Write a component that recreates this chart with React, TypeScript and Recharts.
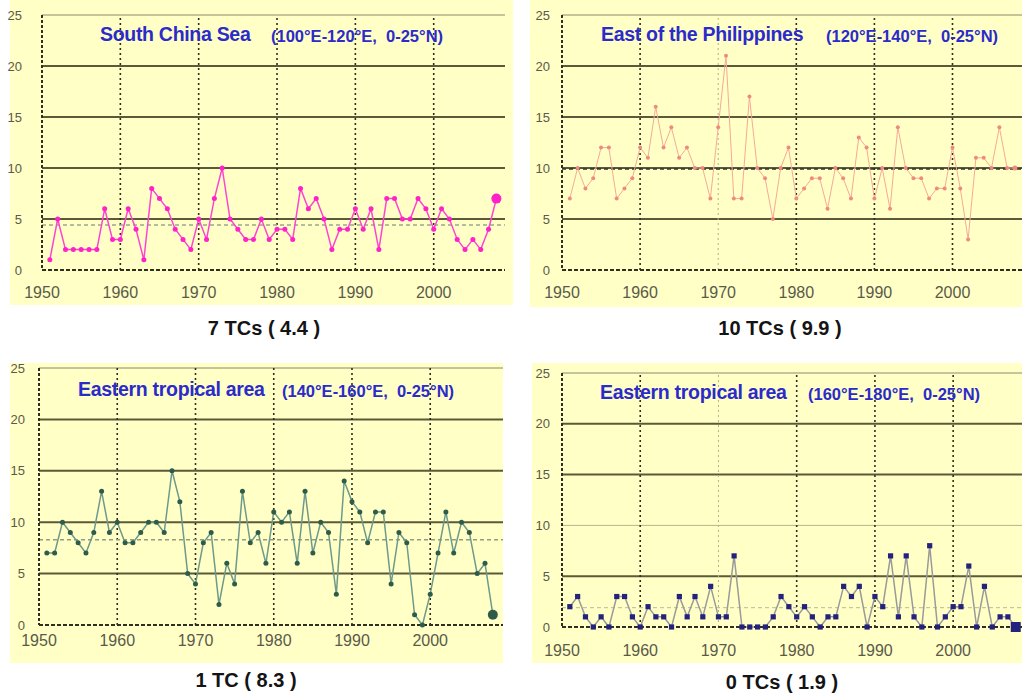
import React from 'react';
import { LineChart, Line, XAxis, YAxis, ReferenceLine } from 'recharts';

const years = [
  1951, 1952, 1953, 1954, 1955, 1956, 1957, 1958, 1959, 1960,
  1961, 1962, 1963, 1964, 1965, 1966, 1967, 1968, 1969, 1970,
  1971, 1972, 1973, 1974, 1975, 1976, 1977, 1978, 1979, 1980,
  1981, 1982, 1983, 1984, 1985, 1986, 1987, 1988, 1989, 1990,
  1991, 1992, 1993, 1994, 1995, 1996, 1997, 1998, 1999, 2000,
  2001, 2002, 2003, 2004, 2005, 2006, 2007, 2008,
];

const southChinaSea = [
  1, 5, 2, 2, 2, 2, 2, 6, 3, 3,
  6, 4, 1, 8, 7, 6, 4, 3, 2, 5,
  3, 7, 10, 5, 4, 3, 3, 5, 3, 4,
  4, 3, 8, 6, 7, 5, 2, 4, 4, 6,
  4, 6, 2, 7, 7, 5, 5, 7, 6, 4,
  6, 5, 3, 2, 3, 2, 4, 7,
];

const eastPhilippines = [
  7, 10, 8, 9, 12, 12, 7, 8, 9, 12,
  11, 16, 12, 14, 11, 12, 10, 10, 7, 14,
  21, 7, 7, 17, 10, 9, 5, 10, 12, 7,
  8, 9, 9, 6, 10, 9, 7, 13, 12, 7,
  10, 6, 14, 10, 9, 9, 7, 8, 8, 12,
  8, 3, 11, 11, 10, 14, 10, 10,
];

const eastern140 = [
  7, 7, 10, 9, 8, 7, 9, 13, 9, 10,
  8, 8, 9, 10, 10, 9, 15, 12, 5, 4,
  8, 9, 2, 6, 4, 13, 8, 9, 6, 11,
  10, 11, 6, 13, 7, 10, 9, 3, 14, 12,
  11, 8, 11, 11, 4, 9, 8, 1, 0, 3,
  7, 11, 7, 10, 9, 5, 6, 1,
];

const eastern160 = [
  2, 3, 1, 0, 1, 0, 3, 3, 1, 0,
  2, 1, 1, 0, 3, 1, 3, 1, 4, 1,
  1, 7, 0, 0, 0, 0, 1, 3, 2, 1,
  2, 1, 0, 1, 1, 4, 3, 4, 0, 3,
  2, 7, 1, 7, 1, 0, 8, 0, 1, 2,
  2, 6, 0, 4, 0, 1, 1, 0,
];

const means = [4.4, 9.9, 8.3, 1.9];
const yTicks = [0, 5, 10, 15, 20, 25];
const xTicks = [1950, 1960, 1970, 1980, 1990, 2000];
const hGrid = [5, 10, 15, 20];
const vGrid = [1960, 1970, 1980, 1990, 2000];

const titles = ['South China Sea', 'East of the Philippines', 'Eastern tropical area', 'Eastern tropical area'];
const subtitles = ['(100°E-120°E,  0-25°N)', '(120°E-140°E,  0-25°N)', '(140°E-160°E,  0-25°N)', '(160°E-180°E,  0-25°N)'];
const captions = ['7 TCs ( 4.4 )', '10 TCs ( 9.9 )', '1 TC ( 8.3 )', '0 TCs ( 1.9 )'];

const seriesList = [southChinaSea, eastPhilippines, eastern140, eastern160];

type Cfg = {
  left: number; top: number; width: number; height: number; bgLeft: number; bgTop: number; bgBottom: number;
  yAxisW: number; mTop: number; mRight: number; mBottom: number; xMax: number;
  yGap: number; xGap: number;
  lineColor: string; lineW: number; dotColor: string; dotR: number; lastR: number; square?: boolean;
  meanColor: string; meanW: number;
  lightH: number[]; lightV: number[];
  titleLeft: number; subLeft: number; titleTop: number; capCenter: number; capTop: number;
};

const cfgs: Cfg[] = [
  {
    left: 0, top: 0, width: 513, height: 305, bgLeft: 10, bgTop: 0, bgBottom: 305,
    yAxisW: 42, mTop: 15, mRight: 8, mBottom: 5, xMax: 2009.1,
    yGap: 20, xGap: 17, lineColor: '#FF44D4', lineW: 1.5, dotColor: '#FF22C8', dotR: 2.5, lastR: 5,
    meanColor: '#9AA88A', meanW: 1.5, lightH: [], lightV: [],
    titleLeft: 100, subLeft: 271, titleTop: 24, capCenter: 264, capTop: 318,
  },
  {
    left: 530, top: 0, width: 492, height: 307, bgLeft: 530, bgTop: 0, bgBottom: 307,
    yAxisW: 32, mTop: 15, mRight: 0, mBottom: 7, xMax: 2008.9,
    yGap: 12, xGap: 17, lineColor: '#F6AA9A', lineW: 1, dotColor: '#F08A80', dotR: 2, lastR: 2.5,
    meanColor: '#333333', meanW: 1.5, lightH: [], lightV: [1970],
    titleLeft: 601, subLeft: 826, titleTop: 24, capCenter: 780, capTop: 318,
  },
  {
    left: 0, top: 350, width: 503, height: 313, bgLeft: 10, bgTop: 363, bgBottom: 663,
    yAxisW: 39, mTop: 18, mRight: 0, mBottom: 8, xMax: 2009.3,
    yGap: 14, xGap: 10, lineColor: '#6E9A8C', lineW: 1.5, dotColor: '#2D5C4A', dotR: 2.5, lastR: 5,
    meanColor: '#8E9E80', meanW: 1.5, lightH: [], lightV: [],
    titleLeft: 78, subLeft: 282, titleTop: 379, capCenter: 246, capTop: 670,
  },
  {
    left: 532, top: 350, width: 490, height: 313, bgLeft: 532, bgTop: 363, bgBottom: 663,
    yAxisW: 30, mTop: 23, mRight: 0, mBottom: 6, xMax: 2008.8,
    yGap: 12, xGap: 18, lineColor: '#9A9A9A', lineW: 1.5, dotColor: '#23237E', dotR: 2.6, lastR: 5, square: true,
    meanColor: '#B8B898', meanW: 1, lightH: [10], lightV: [1970],
    titleLeft: 600, subLeft: 808, titleTop: 382, capCenter: 782, capTop: 672,
  },
];

const FONT = 'Arial, "Liberation Sans", sans-serif';

const makeDot = (color: string, r: number, lastR: number, square?: boolean) => (props: any) => {
  const { cx, cy, index } = props;
  const key = `dot-${index}`;
  if (cx == null || cy == null) return <g key={key} />;
  const rr = index === years.length - 1 ? lastR : r;
  if (square) {
    return <rect key={key} x={cx - rr} y={cy - rr} width={rr * 2} height={rr * 2} fill={color} />;
  }
  return <circle key={key} cx={cx} cy={cy} r={rr} fill={color} />;
};

function Panel({ idx }: { idx: number }) {
  const c = cfgs[idx];
  const values = seriesList[idx];
  const data = years.map((y, i) => ({ year: y, v: values[i] }));
  return (
    <>
      <div style={{ position: 'absolute', left: c.bgLeft, top: c.bgTop, width: c.left + c.width - c.bgLeft, height: c.bgBottom - c.bgTop, background: '#FFFFC6' }} />
      <div style={{ position: 'absolute', left: c.left, top: c.top, width: c.width, height: c.height }}>
        <LineChart width={c.width} height={c.height} data={data}
          margin={{ top: c.mTop, right: c.mRight, bottom: c.mBottom, left: 0 }}>
          <XAxis type="number" dataKey="year" domain={[1950, c.xMax]} ticks={xTicks} allowDataOverflow
            height={30} tickSize={0} tickMargin={c.xGap} interval={0}
            axisLine={{ stroke: '#2E2E22', strokeWidth: 2, strokeDasharray: '4 2' }}
            tick={{ fill: '#5A5A4A', fontSize: 16, fontFamily: FONT }} />
          <YAxis type="number" domain={[0, 25]} ticks={yTicks} width={c.yAxisW} tickSize={0} tickMargin={c.yGap}
            interval={0}
            axisLine={{ stroke: '#2E2E22', strokeWidth: 2, strokeDasharray: '3 2' }}
            tick={{ fill: '#5A5A4A', fontSize: 13, fontFamily: FONT }} />
          <ReferenceLine y={25} stroke="#8A8A6A" strokeWidth={1} />
          {hGrid.map((h) => (
            c.lightH.includes(h)
              ? <ReferenceLine key={`h${h}`} y={h} stroke="#B5B590" strokeWidth={1} />
              : <ReferenceLine key={`h${h}`} y={h} stroke="#5A5A3A" strokeWidth={2} />
          ))}
          {vGrid.map((v) => (
            c.lightV.includes(v)
              ? <ReferenceLine key={`v${v}`} x={v} stroke="#B0B08A" strokeWidth={1} strokeDasharray="2 3" />
              : <ReferenceLine key={`v${v}`} x={v} stroke="#2E2E22" strokeWidth={1.6} strokeDasharray="2 3" />
          ))}
          <ReferenceLine y={means[idx]} stroke={c.meanColor} strokeWidth={c.meanW} strokeDasharray="4 3" />
          <Line type="linear" dataKey="v" stroke={c.lineColor} strokeWidth={c.lineW} isAnimationActive={false}
            dot={makeDot(c.dotColor, c.dotR, c.lastR, c.square)} activeDot={false} />
        </LineChart>
      </div>
      <div style={{ position: 'absolute', left: c.titleLeft, top: c.titleTop, whiteSpace: 'pre', lineHeight: '20px',
        color: '#2B2BCC', fontWeight: 'bold', fontFamily: FONT, fontSize: 19.5, letterSpacing: -0.3 }}>
        {titles[idx]}
      </div>
      <div style={{ position: 'absolute', left: c.subLeft, top: c.titleTop + 4, whiteSpace: 'pre', lineHeight: '17px',
        color: '#2B2BCC', fontWeight: 'bold', fontFamily: FONT, fontSize: 16.5 }}>
        {subtitles[idx]}
      </div>
      <div style={{ position: 'absolute', left: c.capCenter - 100, width: 200, top: c.capTop, textAlign: 'center',
        lineHeight: '20px', fontSize: 20, fontWeight: 'bold', color: '#141414',
        fontFamily: FONT, whiteSpace: 'pre' }}>
        {captions[idx]}
      </div>
    </>
  );
}

export default function App() {
  return (
    <div style={{ position: 'absolute', left: 0, top: 0, width: 1022, height: 694, background: '#FFFFFF', overflow: 'hidden' }}>
      <Panel idx={0} />
      <Panel idx={1} />
      <Panel idx={2} />
      <Panel idx={3} />
    </div>
  );
}
